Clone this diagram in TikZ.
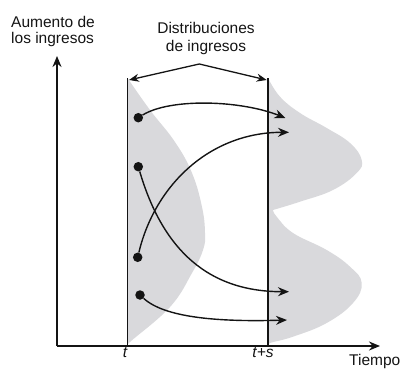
\documentclass[tikz,border=0pt]{standalone}
\usepackage{fontspec}
\setmainfont{Liberation Sans}
\usepackage{tikz}
\usetikzlibrary{arrows.meta}
\definecolor{tinta}{RGB}{20,20,20}
\definecolor{grisdist}{RGB}{217,217,220}

\begin{document}
\begin{tikzpicture}[x=1pt,y=-1pt,tinta,
		linea/.style={line width=1.3pt},
		eje/.style={line width=1.8pt,-{Stealth[length=11pt,width=9pt]}},
		flecha/.style={line width=1.4pt,-{Stealth[length=11pt,width=9pt]}},
		punto/.style={circle,fill=tinta,inner sep=0pt,minimum size=9.5pt},
		etiqueta/.style={font=\fontsize{15.5}{18.5}\selectfont,inner sep=0pt}]
			\useasboundingbox (0,0) rectangle (404,369);
			% distribuciones
			\fill [grisdist] plot[smooth,tension=0.7] coordinates {(127.5,78) (150,110) (175,142) (192,173) (202,207) (205,233) (203,250) (192,273) (170,307) (130,342) (127.5,346)} -- cycle;
			\fill [grisdist] plot[smooth,tension=0.7] coordinates {(268,78) (280,96.7) (300,113) (326.7,128) (350,143) (361.7,160) (356.7,173) (333,190) (300,201.7) (273,210)}
				-- plot[smooth,tension=0.7] coordinates {(273,210) (276.7,216.7) (293,233) (326.7,250) (350,266.7) (361.7,283) (353,303) (326.7,323) (293,336.7) (270,343) (268,346)} -- cycle;
			% ejes
			\coordinate (O) at (57,346);
			\coordinate (Y) at (57,56);
			\coordinate (X) at (380,346);
			\coordinate (T0) at (127.5,78);
			\coordinate (T1) at (127.5,346);
			\coordinate (S0) at (268,78);
			\coordinate (S1) at (268,346);
			\draw [eje] (O)-- (Y);
			\draw [eje] (O)-- (X);
			\draw [linea] (T0)-- (T1);
			\draw [linea] (S0)-- (S1);
			% llave
			\coordinate (L) at (129,80);
			\coordinate (V) at (199.3,64);
			\coordinate (R) at (266.7,80);
			\draw [linea,{Stealth[length=10pt,width=8pt]}-{Stealth[length=10pt,width=8pt]}] (L)-- (V)-- (R);
			% individuos
			\node [punto] (P1) at (138.3,117.7) {};
			\node [punto] (P2) at (138.3,166.7) {};
			\node [punto] (P3) at (137.7,257.3) {};
			\node [punto] (P4) at (140,295) {};
			\coordinate (Q1) at (285.5,118);
			\coordinate (Q2) at (289,291.7);
			\coordinate (Q3) at (289,132.3);
			\coordinate (Q4) at (287,320);
			\draw [flecha] (P1) .. controls (170,98) and (240,100) .. (Q1);
			\draw [flecha] (P2) .. controls (160,240) and (200,291.7) .. (Q2);
			\draw [flecha] (P3) .. controls (155,185) and (210,132.3) .. (Q3);
			\draw [flecha] (P4) .. controls (165,318) and (220,322) .. (Q4);
			% textos
			\node [etiqueta,anchor=north west,align=left,font=\fontsize{15.5}{16.5}\selectfont] (ylab) at (11,15.7) {Aumento de\\los ingresos};
			\node [etiqueta,anchor=north,align=center] (dlab) at (206,21.7) {Distribuciones\\de ingresos};
			\node [etiqueta,anchor=base] (tlab) at (125,357) {\itshape t};
			\node [etiqueta,anchor=base] (slab) at (263,357) {\itshape t+s};
			\node [etiqueta,anchor=base west] (xlab) at (349,365) {Tiempo};
		\end{tikzpicture}
\end{document}
